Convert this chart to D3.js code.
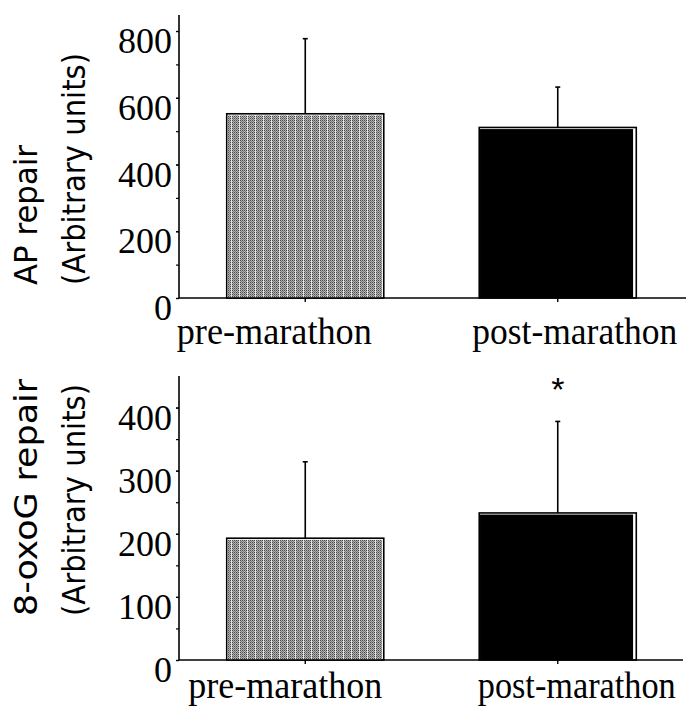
<!DOCTYPE html>
<html>
<head>
<meta charset="utf-8">
<script src="https://cdn.jsdelivr.net/npm/d3@7"></script>
<style>
  body { margin: 0; background: #fff; }
  svg { display: block; }
</style>
</head>
<body>
<div id="chart"></div>
<script>
// values
const categories = ["pre-marathon", "post-marathon"];
const apMean = [552, 511];
const apSD = [225, 121];
const oxoMean = [193, 233];
const oxoSD = [121, 145];
const oxoSignif = ["", "*"];
const apTicks = [0, 200, 400, 600, 800];
const oxoTicks = [0, 100, 200, 300, 400];

const width = 693, height = 709;
const axisX = 179;

const svg = d3.select("#chart").append("svg")
    .attr("width", width)
    .attr("height", height);

// dotted grey fill for the pre-marathon bars
const defs = svg.append("defs");
const pat = defs.append("pattern")
    .attr("id", "dots")
    .attr("patternUnits", "userSpaceOnUse")
    .attr("width", 8)
    .attr("height", 4);
pat.append("rect").attr("width", 8).attr("height", 4).attr("fill", "#b4b4b4");
[[0, 0], [2, 0], [4, 0], [6, 0], [1, 1], [3, 1], [5, 1], [0, 2], [2, 2], [4, 2], [6, 2], [1, 3], [3, 3], [5, 3]].forEach(([dx, dy]) => {
    pat.append("rect").attr("x", dx).attr("y", dy).attr("width", 1).attr("height", 1)
        .attr("fill", dy % 2 === 0 ? "#4a4a4a" : "#7a7a7a");
});
pat.append("rect").attr("x", 7).attr("width", 1).attr("height", 4).attr("fill", "#e2e2e2");

const fills = ["url(#dots)", "#000"];

const panels = [
    { means: apMean, sd: apSD, signif: ["", ""], ticks: apTicks, minor: 100,
      top: 15, base: 298, max: 848, right: 686,
      title: ["AP repair", "(Arbitrary units)"], titleLen: [140, 232], titleY: 285,
      labelShift: [-31, 17], labelWidth: [195, 205], labelY: 344 },
    { means: oxoMean, sd: oxoSD, signif: oxoSignif, ticks: oxoTicks, minor: 50,
      top: 376, base: 660, max: 450, right: 683,
      title: ["8-oxoG repair", "(Arbitrary units)"], titleLen: [237, 232], titleY: 616,
      labelShift: [-20, 19], labelWidth: [194, 198], labelY: 698 }
];

panels.forEach(p => {
    const g = svg.append("g");

    const x = d3.scaleBand()
        .domain(categories)
        .range([axisX, 684])
        .paddingInner(0.378)
        .paddingOuter(0.189);

    const y = d3.scaleLinear()
        .domain([0, p.max])
        .range([p.base, p.top]);

    // bars: white-edged outline with inner fill
    categories.forEach((c, i) => {
        const x0 = x(c), w = x.bandwidth();
        const yTop = y(p.means[i]);
        g.append("rect")
            .attr("x", x0).attr("y", yTop)
            .attr("width", w).attr("height", p.base - yTop)
            .attr("fill", "#fff")
            .attr("stroke", "#000")
            .attr("stroke-width", 1.6);
        g.append("rect")
            .attr("x", x0 + 0.8).attr("y", yTop + 1.6)
            .attr("width", w - (i === 1 ? 4 : 2.5)).attr("height", p.base - yTop - 1.6)
            .attr("fill", fills[i]);

        // upper error bar with small cap
        const cx = x0 + w / 2;
        const yErr = y(p.means[i] + p.sd[i]);
        g.append("line")
            .attr("x1", cx).attr("x2", cx)
            .attr("y1", yTop).attr("y2", yErr)
            .attr("stroke", "#000").attr("stroke-width", 1.6);
        g.append("line")
            .attr("x1", cx - 2.5).attr("x2", cx + 2.5)
            .attr("y1", yErr).attr("y2", yErr)
            .attr("stroke", "#000").attr("stroke-width", 1.6);

        if (p.signif[i]) {
            g.append("text")
                .attr("x", cx)
                .attr("y", yErr - 20)
                .attr("text-anchor", "middle")
                .attr("font-family", "Liberation Sans, Arial, sans-serif")
                .attr("font-size", 34)
                .text(p.signif[i]);
        }
    });

    // y axis: minor ticks, then labelled ticks
    const minorTicks = d3.range(0, p.max, p.minor);
    g.append("g")
        .attr("transform", `translate(${axisX},0)`)
        .call(d3.axisLeft(y).tickValues(minorTicks).tickSize(3).tickFormat(""))
        .call(a => a.select(".domain").remove())
        .call(a => a.selectAll("line").attr("stroke-width", 1.2));

    g.append("g")
        .attr("transform", `translate(${axisX},0)`)
        .call(d3.axisLeft(y).tickValues(p.ticks).tickSize(3).tickPadding(4))
        .call(a => a.select(".domain").remove())
        .call(a => a.selectAll("line").attr("stroke-width", 1.2))
        .call(a => a.selectAll("text")
            .attr("font-family", "Liberation Serif, Times New Roman, serif")
            .attr("font-size", 36)
            .attr("fill", "#000")
            .attr("dy", "0.6em"));

    // axis lines
    g.append("line")
        .attr("x1", axisX).attr("x2", axisX)
        .attr("y1", p.top).attr("y2", p.base)
        .attr("stroke", "#000").attr("stroke-width", 1.6);
    g.append("line")
        .attr("x1", axisX).attr("x2", p.right)
        .attr("y1", p.base).attr("y2", p.base)
        .attr("stroke", "#000").attr("stroke-width", 1.6);

    // x ticks below the baseline at bar centres
    g.selectAll(".xtick")
        .data(categories)
        .join("line")
        .attr("class", "xtick")
        .attr("x1", d => x(d) + x.bandwidth() / 2)
        .attr("x2", d => x(d) + x.bandwidth() / 2)
        .attr("y1", p.base).attr("y2", p.base + 4)
        .attr("stroke", "#000").attr("stroke-width", 1.4);

    // category labels
    g.selectAll(".xlab")
        .data(categories)
        .join("text")
        .attr("class", "xlab")
        .attr("x", (d, i) => x(d) + x.bandwidth() / 2 + p.labelShift[i])
        .attr("y", p.labelY)
        .attr("text-anchor", "middle")
        .attr("font-family", "Liberation Serif, Times New Roman, serif")
        .attr("font-size", 38)
        .attr("textLength", (d, i) => p.labelWidth[i])
        .attr("lengthAdjust", "spacingAndGlyphs")
        .text(d => d);

    // rotated two-line y title
    p.title.forEach((t, k) => {
        g.append("text")
            .attr("transform", `translate(${[37, 85][k]},${p.titleY}) rotate(-90)`)
            .attr("text-anchor", "start")
            .attr("font-family", "DejaVu Sans, sans-serif")
            .attr("font-size", 32)
            .attr("textLength", p.titleLen[k])
            .attr("lengthAdjust", "spacingAndGlyphs")
            .text(t);
    });
});
</script>
</body>
</html>
